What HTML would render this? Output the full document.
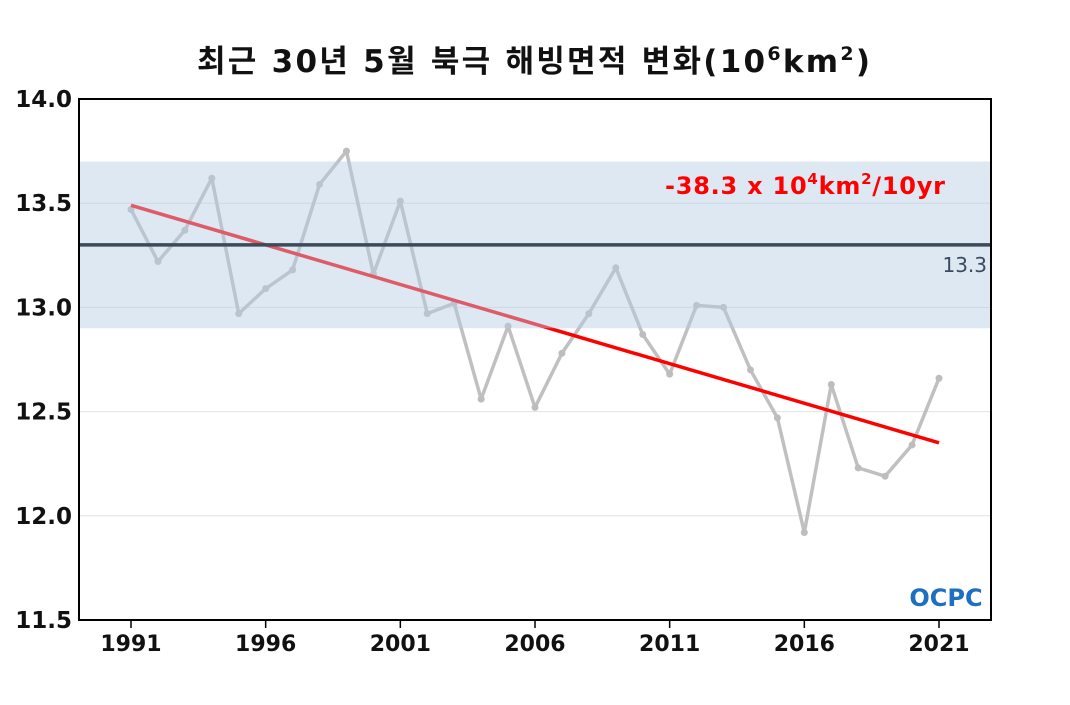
<!DOCTYPE html>
<html><head><meta charset="utf-8"><style>
body{margin:0;background:#fff;}
svg text{font-family:"DejaVu Sans","Noto Sans CJK KR",sans-serif;}
</style></head><body>
<svg id="chart" width="1070" height="700" xmlns="http://www.w3.org/2000/svg">
<text x="197" y="72" font-size="31" font-weight="bold" fill="#111" textLength="673" lengthAdjust="spacing">최근 30년 5월 북극 해빙면적 변화(10<tspan font-size="19" dy="-12">6</tspan><tspan dy="12">km</tspan><tspan font-size="19" dy="-12">2</tspan><tspan dy="12">)</tspan></text>
<g id="grid"></g>
<g id="marks"></g>
<rect x="79" y="99" width="912" height="521" fill="none" stroke="#000" stroke-width="2"/>
<g id="axes"></g>
<text x="665" y="194" font-size="24" font-weight="bold" fill="#ff0000" textLength="280" lengthAdjust="spacing">-38.3 x 10<tspan font-size="15" dy="-10">4</tspan><tspan dy="10">km</tspan><tspan font-size="15" dy="-10">2</tspan><tspan dy="10">/10yr</tspan></text>
<text x="987" y="272" text-anchor="end" font-size="20" fill="#3b4a60">13.3</text>
<text x="946" y="606" text-anchor="middle" font-size="24" font-weight="bold" fill="#1e6fc0">OCPC</text>
</svg>
<script>
const years=[1991,1992,1993,1994,1995,1996,1997,1998,1999,2000,2001,2002,2003,2004,2005,2006,2007,2008,2009,2010,2011,2012,2013,2014,2015,2016,2017,2018,2019,2020,2021];
const extent=[13.47,13.22,13.37,13.62,12.97,13.09,13.18,13.59,13.75,13.16,13.51,12.97,13.02,12.56,12.91,12.52,12.78,12.97,13.19,12.87,12.68,13.01,13.00,12.70,12.47,11.92,12.63,12.23,12.19,12.34,12.66];
const trendEnds=[13.49,12.35];
const band=[12.9,13.7];
const meanValue=[13.3];
const yTicks=[11.5,12.0,12.5,13.0,13.5,14.0];
const xTicks=[1991,1996,2001,2006,2011,2016,2021];
const NS="http://www.w3.org/2000/svg";
const xs=y=>131+(y-1991)*(939-131)/30;
const ys=v=>620-(v-11.5)*(521/2.5);
function mk(tag,attrs,parent){const e=document.createElementNS(NS,tag);for(const k in attrs)e.setAttribute(k,attrs[k]);document.getElementById(parent).appendChild(e);return e;}
yTicks.forEach(t=>{
 const l=mk('line',{x1:79,x2:991,y1:ys(t),y2:ys(t),stroke:'#e2e2e2','stroke-width':1},'grid');
 
 
 const tx=mk('text',{x:72,y:ys(t)+8,'text-anchor':'end','font-size':23,'font-weight':'bold',fill:'#111'},'axes');
 tx.textContent=t.toFixed(1);
 
 
});
xTicks.forEach(t=>{
 const l=mk('line',{x1:xs(t),x2:xs(t),y1:620,y2:628,stroke:'#000','stroke-width':1.5},'axes');
 
 
 const tx=mk('text',{x:xs(t),y:651,'text-anchor':'middle','font-size':22,'font-weight':'bold',fill:'#111'},'axes');
 tx.textContent=t;
 
 
});
const pts=years.map((y,i)=>xs(y)+','+ys(extent[i])).join(' ');
const pl=mk('polyline',{points:pts,fill:'none',stroke:'#c0c0c0','stroke-width':3.5,'stroke-linejoin':'round'},'marks');


years.forEach((y,i)=>{
 const c=mk('circle',{cx:xs(y),cy:ys(extent[i]),r:3.5,fill:'#bdbdbd'},'marks');
 
 
});
const tr=mk('line',{x1:xs(1991),y1:ys(trendEnds[0]),x2:xs(2021),y2:ys(trendEnds[1]),stroke:'#ff0000','stroke-width':3.5},'marks');


const b=mk('rect',{x:80,y:ys(band[1]),width:910,height:ys(band[0])-ys(band[1]),fill:'rgb(180,205,228)','fill-opacity':0.45},'marks');


const m=mk('line',{x1:80,x2:990,y1:ys(meanValue[0]),y2:ys(meanValue[0]),stroke:'#3d4a58','stroke-width':3.5},'marks');


</script>
</body></html>
